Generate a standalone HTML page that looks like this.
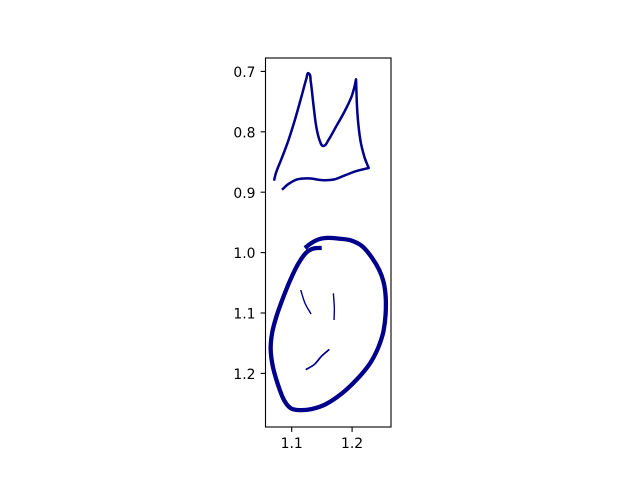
<!DOCTYPE html>
<html>
<head>
<meta charset="utf-8">
<title>Chart</title>
<style>
html,body{margin:0;padding:0;background:#fff;}
svg{display:block;}
text{font-family:"DejaVu Sans",sans-serif;font-size:13.89px;fill:#000;}
</style>
</head>
<body>
<svg id="chart" xmlns="http://www.w3.org/2000/svg" width="640" height="480" viewBox="0 0 640 480"></svg>
<script>
const xTicks = [1.1, 1.2];
const yTicks = [0.7, 0.8, 0.9, 1.0, 1.1, 1.2];
const tickLabelsX = ["1.1", "1.2"];
const tickLabelsY = ["0.7", "0.8", "0.9", "1.0", "1.1", "1.2"];

const outerX = [1.0707,1.0728,1.0839,1.0939,1.1050,1.1159,1.1253,1.1281,1.1315,1.1353,1.1407,1.1464,1.1526,1.1606,1.1717,1.1882,1.1993,1.2036,1.2065,1.2086,1.2131,1.2214,1.2275,1.2076,1.1882,1.1689,1.1523,1.1270,1.1104,1.0939,1.0839];
const outerY = [0.8810,0.8687,0.8439,0.8164,0.7805,0.7445,0.7060,0.7031,0.7114,0.7502,0.7942,0.8152,0.8235,0.8164,0.7916,0.7667,0.7419,0.7253,0.7131,0.7694,0.8136,0.8439,0.8599,0.8644,0.8715,0.8798,0.8810,0.8760,0.8781,0.8869,0.8959];

const ringX = [1.1497,1.1358,1.1248,1.1109,1.0972,1.0834,1.0757,1.0674,1.0652,1.0685,1.0773,1.0884,1.0977,1.1142,1.1336,1.1556,1.1833,1.2076,1.2296,1.2387,1.2470,1.2517,1.2556,1.2556,1.2517,1.2450,1.2325,1.2159,1.1993,1.1772,1.1584,1.1469,1.1303,1.1220];
const ringY = [0.9924,0.9935,0.9990,1.0184,1.0459,1.0818,1.1033,1.1336,1.1584,1.1889,1.2164,1.2469,1.2568,1.2606,1.2578,1.2523,1.2330,1.2098,1.1844,1.1667,1.1447,1.1336,1.1005,1.0730,1.0482,1.0288,1.0094,0.9874,0.9803,0.9775,0.9758,0.9770,0.9853,0.9924];

const strokeAX = [1.1149,1.1221,1.1320];
const strokeAY = [1.0619,1.0840,1.1016];
const strokeBX = [1.1690,1.1706,1.1701];
const strokeBY = [1.0674,1.0922,1.1116];
const strokeCX = [1.1232,1.1376,1.1497,1.1624];
const strokeCY = [1.1938,1.1850,1.1712,1.1602];

const NS = "http://www.w3.org/2000/svg";
const svg = document.getElementById("chart");
const scaleX = v => 291.7 + (v - 1.1) * 604;
const scaleY = v => 71.4 + (v - 0.7) * 604;

function make(tag, attrs, parent) {
  const el = document.createElementNS(NS, tag);
  for (const k in attrs) el.setAttribute(k, attrs[k]);
  (parent || svg).appendChild(el);
  return el;
}

const dist = (a, b) => Math.hypot(a[0] - b[0], a[1] - b[1]) || 1;
const unit = (a, b) => { const l = dist(a, b); return [(b[0] - a[0]) / l, (b[1] - a[1]) / l]; };
const turnCos = (a, b, c) => { const u = unit(a, b), v = unit(b, c); return u[0] * v[0] + u[1] * v[1]; };

function taubin(points) {
  const n = points.length;
  const frozen = points.map((q, i) => i === 0 || i === n - 1 || turnCos(points[i - 1], q, points[i + 1]) < 0.17);
  let p = points;
  const pass = f => {
    p = p.map((q, i) => frozen[i] ? q : [
      q[0] + f * ((p[i - 1][0] + p[i + 1][0]) / 2 - q[0]),
      q[1] + f * ((p[i - 1][1] + p[i + 1][1]) / 2 - q[1])
    ]);
  };
  for (let k = 0; k < 2; k++) { pass(0.45); pass(-0.47); }
  return p;
}

function smoothPath(xs, ys) {
  const raw = xs.map((x, i) => [scaleX(x), scaleY(ys[i])]);
  const p = raw.length > 4 ? taubin(raw) : raw;
  const n = p.length;
  const inT = [], outT = [];
  for (let i = 0; i < n; i++) {
    const a = p[Math.max(i - 1, 0)], c = p[Math.min(i + 1, n - 1)];
    if (i > 0 && i < n - 1 && turnCos(a, p[i], c) < 0.17 && Math.min(dist(a, p[i]), dist(p[i], c)) > 7) {
      inT[i] = unit(a, p[i]);
      outT[i] = unit(p[i], c);
    } else {
      inT[i] = outT[i] = unit(a, c);
    }
  }
  let d = "M" + p[0][0].toFixed(2) + " " + p[0][1].toFixed(2);
  for (let i = 0; i < n - 1; i++) {
    const b = p[i], c = p[i + 1], h = dist(b, c) / 3;
    d += " C" + (b[0] + outT[i][0] * h).toFixed(2) + " " + (b[1] + outT[i][1] * h).toFixed(2) +
         " " + (c[0] - inT[i + 1][0] * h).toFixed(2) + " " + (c[1] - inT[i + 1][1] * h).toFixed(2) +
         " " + c[0].toFixed(2) + " " + c[1].toFixed(2);
  }
  return d;
}

const series = [
  { xs: outerX, ys: outerY, w: 2.5, name: "upper-contour" },
  { xs: ringX, ys: ringY, w: 4.3, name: "lower-ring-contour" },
  { xs: strokeAX, ys: strokeAY, w: 1.4, name: "inner-stroke-left" },
  { xs: strokeBX, ys: strokeBY, w: 1.4, name: "inner-stroke-right" },
  { xs: strokeCX, ys: strokeCY, w: 1.7, name: "inner-stroke-bottom" }
];

series.forEach(s => {
  const path = make("path", { d: smoothPath(s.xs, s.ys), fill: "none", stroke: "#00008b", "stroke-width": s.w, "stroke-linejoin": "round", "stroke-linecap": "butt" });
  
  
});

const frame = make("rect", { x: 265.5, y: 58, width: 125.5, height: 369, fill: "none", stroke: "#000", "stroke-width": 1.1 });



xTicks.forEach((v, i) => {
  const x = scaleX(v);
  const tick = make("line", { x1: x, x2: x, y1: 427, y2: 431.9, stroke: "#000", "stroke-width": 1.1 });
  
  
  const label = make("text", { x: x, y: 448, "text-anchor": "middle" });
  label.textContent = tickLabelsX[i];
  
  
});

yTicks.forEach((v, i) => {
  const y = scaleY(v);
  const tick = make("line", { x1: 260.6, x2: 265.5, y1: y, y2: y, stroke: "#000", "stroke-width": 1.1 });
  
  
  const label = make("text", { x: 255.5, y: y + 5.6, "text-anchor": "end" });
  label.textContent = tickLabelsY[i];
  
  
});
</script>
</body>
</html>
